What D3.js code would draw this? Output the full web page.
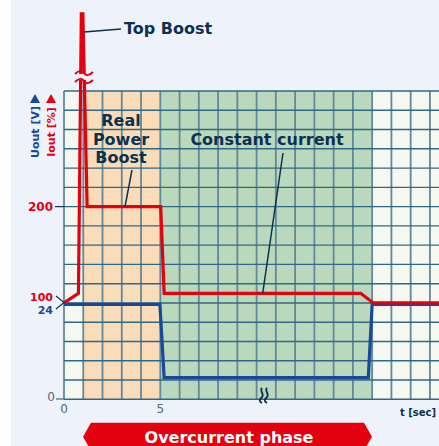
<!DOCTYPE html>
<html>
<head>
<meta charset="utf-8">
<script src="https://cdn.jsdelivr.net/npm/d3@7"></script>
<style>
  body { margin: 0; background: #fff; }
  svg { display: block; font-family: "DejaVu Sans", sans-serif; }
</style>
</head>
<body>
<div id="vizArea"></div>
<script>
// data
const redT = [0, 0.75, 0.9, 0.98, 1.2, 5.02, 5.2, 15.4, 16.06, 20];
const redI = [100, 110, 400, 400, 200, 200, 110, 110, 100, 100];   // Iout [%]
const blueT = [0, 4.98, 5.2, 15.8, 16.0, 20];
const blueU = [24, 24, 5.5, 5.5, 24, 24];                          // Uout [V]
const phases = [
  {from: 0, to: 1, color: "#f5f8f1"},
  {from: 1, to: 5, color: "#fbdcb8"},
  {from: 5, to: 16, color: "#bad8bc"},
  {from: 16, to: 20, color: "#f5f8f1"}
];
const xTicks = [0, 5];

const width = 439, height = 446;

const svg = d3.select("#vizArea")
  .append("svg")
  .attr("width", width)
  .attr("height", height);

// page background
svg.append("rect").attr("x", 11).attr("y", 0)
  .attr("width", width - 11).attr("height", height)
  .attr("fill", "#eef3fb");

const x = d3.scaleLinear().domain([0, 20]).range([64, 64 + 20 * 19.26]);
const yI = d3.scaleLinear().domain([0, 320]).range([399.3, 91]);
const yU = d3.scaleLinear().domain([0, 24]).range([399.3, 304.3]);

// coloured phases
svg.append("g").selectAll("rect")
  .data(phases)
  .join("rect")
  .attr("x", d => x(d.from))
  .attr("y", yI(320))
  .attr("width", d => x(d.to) - x(d.from))
  .attr("height", yI(0) - yI(320))
  .attr("fill", d => d.color);

// grid
const grid = svg.append("g");
grid.selectAll(".v")
  .data(d3.range(0, 21))
  .join("line")
  .attr("x1", d => x(d)).attr("x2", d => x(d))
  .attr("y1", yI(320)).attr("y2", yI(0))
  .attr("stroke", "#62889a").attr("stroke-width", 1.8);
grid.selectAll(".h")
  .data(d3.range(0, 321, 20))
  .join("line")
  .attr("x1", x(0)).attr("x2", x(20))
  .attr("y1", d => yI(d)).attr("y2", d => yI(d))
  .attr("stroke", "#2f6886").attr("stroke-width", 1.4);

const navy = "#0c3150";
const red = "#e3000f";
const blue = "#164a96";

// curves
const redData = redT.map((t, i) => ({t, v: redI[i]}));
const blueData = blueT.map((t, i) => ({t, v: blueU[i]}));

svg.append("path")
  .datum(blueData)
  .attr("fill", "none")
  .attr("stroke", blue)
  .attr("stroke-width", 3.2)
  .attr("d", d3.line().x(d => x(d.t)).y(d => yU(d.v)));

svg.append("path")
  .datum(redData)
  .attr("fill", "none")
  .attr("stroke", red)
  .attr("stroke-width", 3.2)
  .attr("d", d3.line().x(d => x(d.t)).y(d => yI(d.v)));

// break on the spike
const by = 77;
svg.append("rect").attr("x", 74).attr("y", by - 3).attr("width", 20).attr("height", 6)
  .attr("fill", "#eef3fb");
[by - 4, by + 4].forEach(yy => {
  svg.append("path")
    .attr("d", `M75,${yy + 1} C79,${yy - 3} 82,${yy - 3} 84,${yy} S89,${yy + 3} 93,${yy - 1}`)
    .attr("fill", "none").attr("stroke", red).attr("stroke-width", 2);
});

// break mark on the time axis
[262, 267].forEach(xx => {
  svg.append("path")
    .attr("d", `M${xx},388 C${xx - 3},391 ${xx + 3},394 ${xx},397 S${xx - 3},401 ${xx},403`)
    .attr("fill", "none").attr("stroke", navy).attr("stroke-width", 1.8);
});

// axis labels and ticks
const tickCol = "#4c6a7a";
svg.append("g").selectAll("text")
  .data(xTicks)
  .join("text")
  .attr("x", d => x(d))
  .attr("y", 413)
  .attr("text-anchor", "middle")
  .attr("font-size", 12)
  .attr("fill", tickCol)
  .text(d => d);

svg.append("text").attr("x", 55).attr("y", 401).attr("text-anchor", "end")
  .attr("font-size", 12).attr("fill", tickCol).text("0");
svg.append("line").attr("x1", 56).attr("x2", 64).attr("y1", 399).attr("y2", 399)
  .attr("stroke", tickCol).attr("stroke-width", 1.2);

svg.append("text").attr("x", 53).attr("y", yI(200) + 4.5).attr("text-anchor", "end")
  .attr("font-size", 12).attr("font-weight", "bold").attr("fill", red).text("200");
svg.append("line").attr("x1", 55).attr("x2", 64).attr("y1", yI(200)).attr("y2", yI(200))
  .attr("stroke", navy).attr("stroke-width", 1.2);

svg.append("text").attr("x", 53).attr("y", 300.5).attr("text-anchor", "end")
  .attr("font-size", 11).attr("font-weight", "bold").attr("fill", red).text("100");
svg.append("text").attr("x", 53).attr("y", 313.5).attr("text-anchor", "end")
  .attr("font-size", 11).attr("font-weight", "bold").attr("fill", blue).text("24");
svg.append("path").attr("d", "M56,296 L64,302.5 L56,309")
  .attr("fill", "none").attr("stroke", navy).attr("stroke-width", 1.1);

svg.append("text").attr("x", 436).attr("y", 416).attr("text-anchor", "end")
  .attr("font-size", 10).attr("font-weight", "bold").attr("fill", navy).text("t [sec]");

// rotated axis titles
svg.append("text")
  .attr("transform", "translate(39,132) rotate(-90)")
  .attr("text-anchor", "middle")
  .attr("font-size", 11).attr("font-weight", "bold").attr("fill", blue)
  .text("Uout [V]");
svg.append("text")
  .attr("transform", "translate(55,132) rotate(-90)")
  .attr("text-anchor", "middle")
  .attr("font-size", 11).attr("font-weight", "bold").attr("fill", red)
  .text("Iout [%]");
svg.append("path").attr("d", "M30,103 L35,94 L40,103 Z").attr("fill", blue);
svg.append("path").attr("d", "M46,103 L51,94 L56,103 Z").attr("fill", red);

// annotations
svg.append("line").attr("x1", 84).attr("y1", 32).attr("x2", 121).attr("y2", 29)
  .attr("stroke", navy).attr("stroke-width", 1.5);
svg.append("text").attr("x", 124).attr("y", 34)
  .attr("font-size", 16).attr("font-weight", "bold").attr("fill", navy)
  .text("Top Boost");

const rpb = ["Real", "Power", "Boost"];
svg.append("g").selectAll("text")
  .data(rpb)
  .join("text")
  .attr("x", 121)
  .attr("y", (d, i) => 126 + i * 18.5)
  .attr("text-anchor", "middle")
  .attr("font-size", 16).attr("font-weight", "bold").attr("fill", navy)
  .text(d => d);
svg.append("line").attr("x1", 132).attr("y1", 170).attr("x2", 125).attr("y2", yI(200))
  .attr("stroke", navy).attr("stroke-width", 1.5);

svg.append("text").attr("x", 267).attr("y", 145)
  .attr("text-anchor", "middle")
  .attr("font-size", 16).attr("font-weight", "bold").attr("fill", navy)
  .text("Constant current");
svg.append("line").attr("x1", 283).attr("y1", 153).attr("x2", 262.7).attr("y2", yI(110))
  .attr("stroke", navy).attr("stroke-width", 1.5);

// banner
svg.append("path")
  .attr("d", "M83,436.7 L91,422.7 L364,422.7 L372,436.7 L364,450.7 L91,450.7 Z")
  .attr("fill", red);
svg.append("text").attr("x", 229).attr("y", 442.5)
  .attr("text-anchor", "middle")
  .attr("font-size", 16).attr("font-weight", "bold").attr("fill", "#fff")
  .text("Overcurrent phase");
</script>
</body>
</html>
